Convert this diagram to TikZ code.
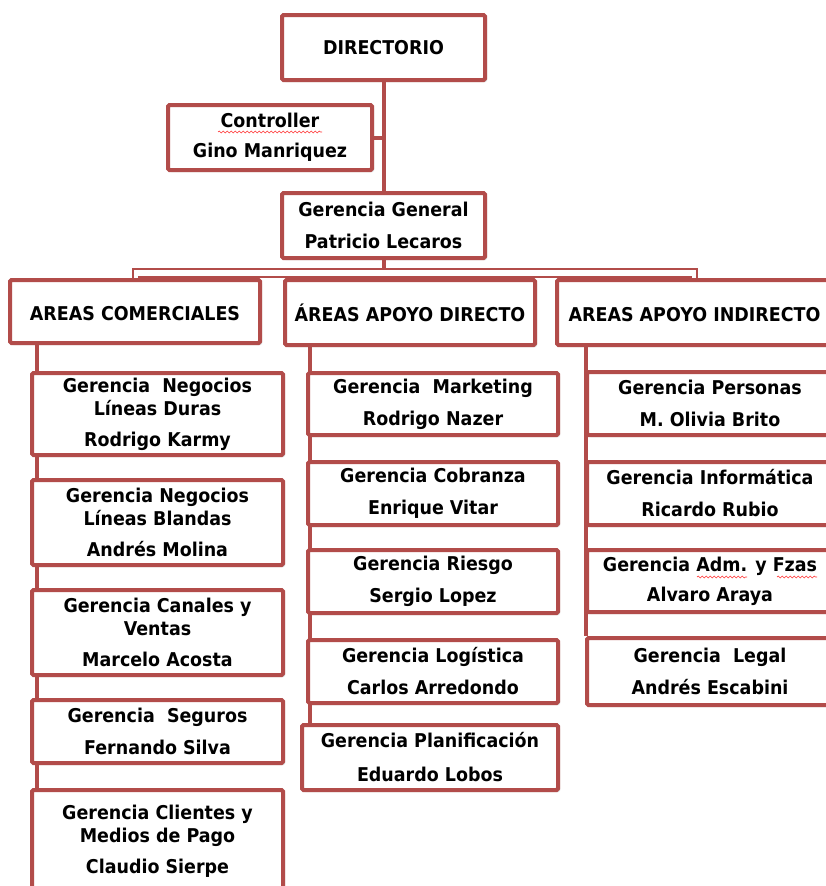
\documentclass[tikz,border=0pt]{standalone}
\usepackage{fontspec}
\newfontfamily\orgfont{DejaVu Sans}[FakeStretch=0.92]
\usetikzlibrary{backgrounds,shadows,decorations.pathmorphing}
\definecolor{bord}{RGB}{178,76,74}
\newcommand\mybox[6]{\node[orgbox,minimum width=#4pt,minimum height=#5pt] (#1) at (#2,#3) {#6};}
\begin{document}
\begin{tikzpicture}[x=1pt,y=-1pt,
  orgbox/.style={draw=bord,line width=4pt,fill=white,rounded corners=1.5pt,
    align=center,inner sep=0pt,
    font=\orgfont\bfseries\fontsize{19}{23}\selectfont,
    drop shadow={shadow xshift=2pt,shadow yshift=-2pt,opacity=0.3}},
  conn/.style={draw=bord,line width=4pt},
  bk/.style={draw=bord,line width=2pt},
  squig/.style={draw=red!80!white,line width=0.6pt,decorate,
    decoration={snake,amplitude=0.9pt,segment length=4pt}}]
\useasboundingbox (0,0) rectangle (826,886);
% top
\mybox{dir}{383.5}{47.5}{203}{65}{DIRECTORIO}
\mybox{ctl}{270}{137.5}{204}{65}{Controller\\[7pt]Gino Manriquez}
\mybox{gg}{383.5}{225.5}{203}{65}{Gerencia General\\[9pt]Patricio Lecaros}
% areas
\mybox{ac}{135}{311.5}{250}{63}{\vphantom{Á}AREAS COMERCIALES}
\mybox{ad}{410}{312.5}{250}{65}{ÁREAS APOYO DIRECTO}
\mybox{ai}{694.5}{312.5}{275}{65}{\vphantom{Á}AREAS APOYO INDIRECTO}
% left column
\mybox{l1}{157.5}{414}{251}{82}{Gerencia\ \ Negocios\\Líneas Duras\\[8pt]Rodrigo Karmy}
\mybox{l2}{157.5}{522.5}{251}{85}{Gerencia Negocios\\Líneas Blandas\\[8pt]Andrés Molina}
\mybox{l3}{157.5}{632.5}{251}{85}{Gerencia Canales y\\Ventas\\[8pt]Marcelo Acosta}
\mybox{l4}{157.5}{731.5}{251}{63}{Gerencia\ \ Seguros\\[9pt]Fernando Silva}
\mybox{l5}{157.5}{841}{251}{102}{Gerencia Clientes y\\Medios de Pago\\[8pt]Claudio Sierpe}
% middle column
\mybox{m1}{433}{404}{250}{62}{Gerencia\ \ Marketing\\[9pt]Rodrigo Nazer}
\mybox{m2}{433}{493.5}{250}{63}{Gerencia Cobranza\\[9pt]Enrique Vitar}
\mybox{m3}{433}{581.5}{250}{63}{Gerencia Riesgo\\[9pt]Sergio Lopez}
\mybox{m4}{433}{671.5}{250}{63}{Gerencia Logística\\[9pt]Carlos Arredondo}
\mybox{m5}{430}{757.5}{256}{65}{Gerencia Planificación\\[11pt]Eduardo Lobos}
% right column
\mybox{r1}{710}{403.5}{246}{63}{Gerencia Personas\\[9pt]M. Olivia Brito}
\mybox{r2}{710}{493.5}{246}{63}{Gerencia Informática\\[9pt]Ricardo Rubio}
\mybox{r3}{710}{581}{246}{62}{Gerencia Adm. y Fzas\\[7pt]Alvaro Araya}
\mybox{r4}{710}{671.5}{246}{67}{Gerencia\ \ Legal\\[9pt]Andrés Escabini}
% helper coordinates
\coordinate (xL) at (37,0);
\coordinate (xM) at (310,0);
\coordinate (xR) at (586,0);
\coordinate (bkA) at (133,269);
\coordinate (bkB) at (697,269);
\coordinate (bkC) at (139,277);
\coordinate (bkD) at (691,277);
\coordinate (bkE) at (410,277);
\begin{scope}[on background layer]
  \fill[white] (0,0) rectangle (826,886);
  \draw[conn] (dir.south) -- (gg.north);
  \draw[conn] (ctl.east) -- (ctl.east -| dir.south);
  \draw[conn] (gg.south) -- (gg.south |- bkA);
  \draw[bk] (ac.north -| bkA) -- (bkA) -- (bkB) -- (ai.north -| bkB);
  \draw[bk] (ac.north -| bkC) -- (bkC) -- (bkD) -- (ai.north -| bkD);
  \draw[bk] (bkE) -- (ad.north -| bkE);
  \draw[conn] (ac.south -| xL) -- (l5.south -| xL);
  \draw[conn] (ad.south -| xM) -- (m5.north -| xM);
  \draw[conn] (ai.south -| xR) -- (r4.north -| xR);
\end{scope}
% spell-check marks
\draw[squig] (218,132) -- (322,132);
\draw[squig] (697,577) -- (747,577);
\draw[squig] (777,577) -- (817,577);
\end{tikzpicture}
\end{document}
